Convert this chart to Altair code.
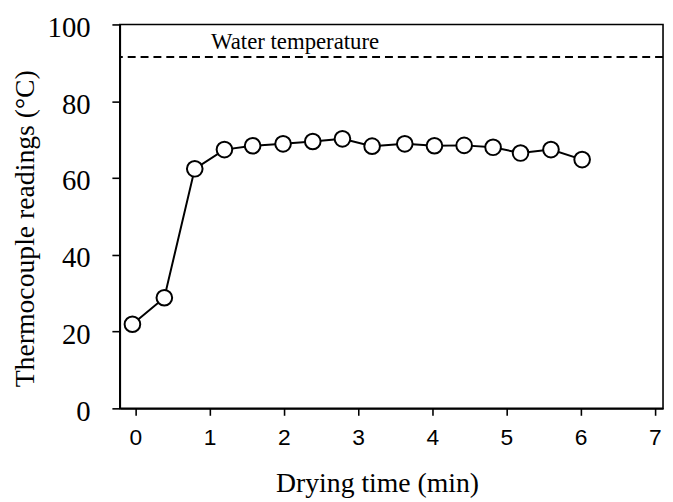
import altair as alt
import pandas as pd

# Data
time_min = [-0.04, 0.39, 0.80, 1.20, 1.58, 1.99, 2.39, 2.79, 3.19, 3.63, 4.03, 4.43, 4.82, 5.19, 5.60, 6.02]
reading_c = [21.9, 28.8, 62.4, 67.4, 68.4, 68.9, 69.5, 70.2, 68.3, 68.9, 68.4, 68.5, 68.0, 66.5, 67.4, 64.8]
water_temp = [91.5]
annot_text = ["Water temperature"]
annot_x = [1.02]
annot_y = [93.6]
x_ticks = [0, 1, 2, 3, 4, 5, 6, 7]
y_ticks = [0, 10, 20, 30, 40, 50, 60, 70, 80, 90, 100]

df = pd.DataFrame({"t": time_min, "v": reading_c})
df_w = pd.DataFrame({"w": water_temp})
df_a = pd.DataFrame({"x": annot_x, "y": annot_y, "label": annot_text})

SERIF = "Liberation Serif"
SANS = "Liberation Sans"

xscale = alt.Scale(domain=[-0.21, 7.11], nice=False, zero=False)
yscale = alt.Scale(domain=[0, 100], nice=False)

xaxis = alt.Axis(
    title="Drying time (min)", values=x_ticks, grid=False, format="d",
    tickSize=7, tickWidth=1.6, tickColor="black",
    domainColor="black", domainWidth=1.6,
    labelFont=SANS, labelFontSize=23, labelColor="black", labelPadding=12,
    titleFont=SERIF, titleFontSize=28, titleFontWeight="normal", titleColor="black",
    titlePadding=20, titleX=260,
)
yaxis = alt.Axis(
    title="Thermocouple readings (°C)", values=y_ticks, grid=False,
    tickSize=8, tickWidth=1.6, tickColor="black",
    domainColor="black", domainWidth=1.6,
    labelExpr="datum.value % 20 == 0 ? datum.label : ''",
    labelFont=SERIF, labelFontSize=29, labelColor="black", labelPadding=22,
    labelOffset=3,
    titleFont=SERIF, titleFontSize=28, titleFontWeight="normal", titleColor="black",
    titlePadding=8, titleY=206,
)

base = alt.Chart(df)
line = base.mark_line(color="black", strokeWidth=2).encode(
    x=alt.X("t:Q", scale=xscale, axis=xaxis),
    y=alt.Y("v:Q", scale=yscale, axis=yaxis),
)
points = base.mark_point(shape="circle", filled=True, fill="white", stroke="black",
                         strokeWidth=2, size=250, opacity=1).encode(
    x=alt.X("t:Q", scale=xscale),
    y=alt.Y("v:Q", scale=yscale),
)
rule = alt.Chart(df_w).mark_rule(color="black", strokeWidth=2, strokeDash=[8, 5]).encode(
    y=alt.Y("w:Q", scale=yscale),
)
text = alt.Chart(df_a).mark_text(align="left", baseline="alphabetic", font=SERIF,
                                 fontSize=23, color="black").encode(
    x=alt.X("x:Q", scale=xscale),
    y=alt.Y("y:Q", scale=yscale),
    text="label:N",
)

chart = (rule + line + points + text).properties(
    width=549, height=388,
    autosize=alt.AutoSizeParams(type="none"),
    padding={"left": 113, "top": 14, "right": 2, "bottom": 90},
).configure_view(stroke="black", strokeWidth=1.6)

chart.save("out.html", embed_options={"renderer": "svg", "actions": False})
